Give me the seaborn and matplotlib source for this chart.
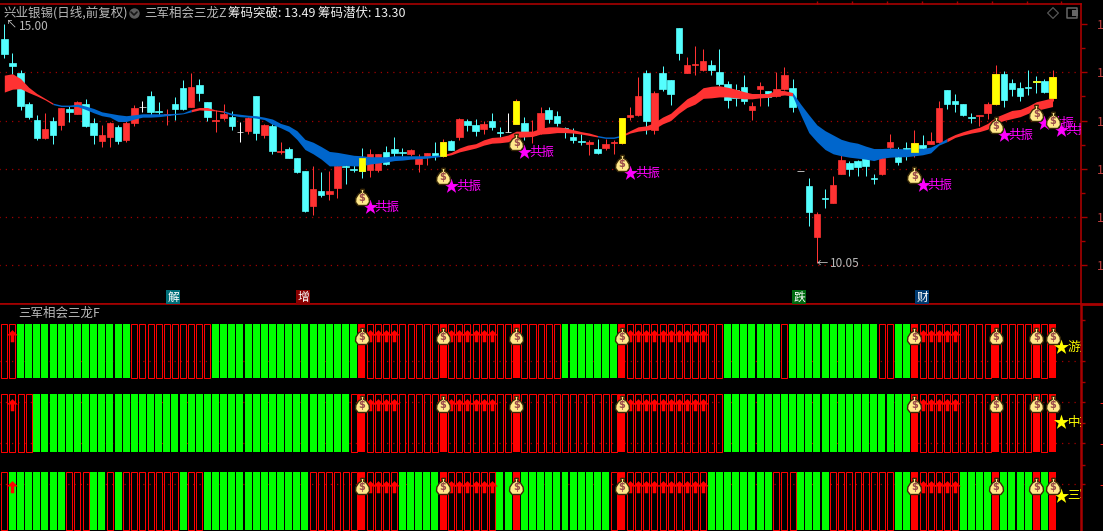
import numpy as np
import pandas as pd
import seaborn as sns
import matplotlib.pyplot as plt

# %%
opens = [14.69, 14.19, 13.99, 13.34, 13.01, 12.64, 13.00, 12.91, 13.24, 13.14,
         13.34, 12.95, 12.58, 12.66, 12.87, 12.60, 12.95, 13.28, 13.50, 13.20,
         13.12, 13.34, 13.68, 13.28, 13.74, 13.39, 13.00, 13.05, 13.07, 12.77,
         12.78, 13.51, 12.70, 12.88, 12.35, 12.41, 12.22, 11.96, 11.23, 11.54,
         11.48, 11.60, 12.06, 12.00, 12.22, 11.98, 11.98, 12.35, 12.41, 12.35,
         12.31, 12.10, 12.27, 12.33, 12.27, 12.58, 12.66, 12.99, 12.91, 12.83,
         12.99, 12.76, 12.77, 12.93, 12.95, 12.70, 12.76, 13.22, 13.10, 12.84,
         12.66, 12.58, 12.51, 12.41, 12.43, 12.53, 12.54, 13.07, 13.12, 13.99,
         12.80, 13.99, 13.84, 14.92, 13.99, 14.16, 14.05, 14.15, 14.01, 13.76,
         13.63, 13.70, 13.22, 13.65, 13.61, 13.50, 13.65, 13.68, 11.95, 11.64,
         10.59, 11.40, 11.29, 11.89, 12.12, 12.16, 12.22, 11.81, 11.89, 12.45,
         12.25, 12.43, 12.35, 12.49, 12.51, 12.55, 13.63, 13.41, 13.34, 13.07,
         13.10, 13.16, 13.34, 13.97, 13.78, 13.68, 13.70, 13.82, 13.82, 13.47]
closes = [14.37, 14.14, 13.30, 13.08, 12.64, 12.82, 12.71, 13.26, 13.18, 13.38,
          12.89, 12.70, 12.70, 12.95, 12.58, 12.95, 13.26, 13.28, 13.18, 13.18,
          13.14, 13.24, 13.24, 13.70, 13.57, 13.07, 13.02, 13.14, 12.89, 12.77,
          13.05, 12.74, 12.91, 12.37, 12.37, 12.22, 11.93, 11.13, 11.58, 11.46,
          11.54, 12.06, 12.04, 11.98, 11.96, 12.31, 12.31, 12.10, 12.33, 12.33,
          12.39, 12.22, 12.33, 12.27, 12.56, 12.39, 13.03, 12.91, 12.78, 12.93,
          12.87, 12.75, 12.77, 13.41, 12.76, 12.76, 13.16, 13.03, 12.95, 12.83,
          12.60, 12.56, 12.56, 12.33, 12.51, 12.56, 13.05, 13.12, 13.51, 12.99,
          13.57, 13.65, 13.55, 14.40, 14.15, 14.17, 14.23, 14.05, 13.76, 13.43,
          13.47, 13.41, 13.30, 13.72, 13.49, 13.65, 13.94, 13.28, 11.95, 11.10,
          11.06, 11.37, 11.66, 12.18, 12.00, 12.04, 12.06, 11.79, 12.22, 12.56,
          12.14, 12.39, 12.54, 12.43, 12.58, 13.26, 13.34, 13.34, 13.12, 13.05,
          13.12, 13.34, 13.97, 13.43, 13.65, 13.51, 13.68, 13.80, 13.59, 13.90]
highs = [15.00, 14.39, 14.05, 13.39, 13.12, 13.15, 13.07, 13.27, 13.30, 13.40,
         13.45, 13.05, 12.91, 12.98, 12.90, 12.99, 13.32, 13.41, 13.61, 13.39,
         13.24, 13.48, 13.84, 13.99, 13.86, 13.39, 13.22, 13.34, 13.19, 12.97,
         13.07, 13.51, 12.93, 12.92, 12.56, 12.45, 12.22, 11.96, 12.06, 11.93,
         11.96, 12.18, 12.20, 12.11, 12.43, 12.42, 12.31, 12.48, 12.66, 12.43,
         12.42, 12.31, 12.33, 12.55, 12.61, 12.60, 13.05, 13.03, 13.03, 12.99,
         13.16, 12.87, 13.16, 13.45, 13.07, 13.01, 13.28, 13.28, 13.20, 12.87,
         12.85, 12.72, 12.60, 12.62, 12.62, 12.60, 13.05, 13.28, 13.90, 14.05,
         13.61, 14.13, 13.84, 14.92, 14.32, 14.55, 14.48, 14.26, 14.48, 13.82,
         13.76, 13.94, 13.39, 13.80, 13.61, 14.01, 14.11, 13.86, 11.95, 11.81,
         11.10, 11.58, 11.85, 12.33, 12.16, 12.18, 12.29, 11.89, 12.42, 12.72,
         12.45, 12.56, 12.80, 12.70, 12.76, 13.40, 13.63, 13.55, 13.34, 13.16,
         13.12, 13.39, 14.15, 14.03, 13.86, 13.80, 14.05, 13.92, 13.86, 14.05]
lows = [14.30, 13.97, 13.22, 13.03, 12.60, 12.62, 12.51, 12.80, 12.96, 13.14,
        12.87, 12.51, 12.46, 12.46, 12.51, 12.56, 12.89, 13.18, 13.12, 13.12,
        12.91, 13.01, 13.22, 13.28, 13.41, 12.99, 12.76, 13.01, 12.80, 12.56,
        12.72, 12.60, 12.64, 12.31, 12.31, 12.22, 11.91, 11.10, 11.04, 11.42,
        11.35, 11.40, 11.68, 11.93, 11.81, 11.84, 11.93, 12.08, 12.18, 12.27,
        12.27, 11.93, 12.08, 12.18, 12.25, 12.39, 12.60, 12.78, 12.68, 12.72,
        12.80, 12.66, 12.76, 12.93, 12.60, 12.54, 12.73, 12.95, 12.89, 12.64,
        12.54, 12.49, 12.29, 12.31, 12.39, 12.31, 12.51, 13.01, 13.10, 12.72,
        12.72, 13.61, 13.32, 14.26, 13.99, 13.94, 14.03, 13.94, 13.72, 13.26,
        13.30, 13.34, 13.01, 13.30, 13.30, 13.48, 13.63, 13.18, 11.95, 10.81,
        10.05, 11.19, 11.29, 11.89, 11.85, 11.85, 11.85, 11.68, 11.87, 12.39,
        12.08, 12.18, 12.25, 12.33, 12.51, 12.54, 13.24, 13.18, 13.10, 12.95,
        12.89, 13.03, 13.32, 13.28, 13.51, 13.41, 13.53, 13.57, 13.57, 13.41]

band_upper = [13.94, 13.97, 13.87, 13.69, 13.56, 13.46, 13.36, 13.32, 13.32, 13.34,
              13.30, 13.25, 13.18, 13.15, 13.12, 13.10, 13.12, 13.14, 13.14, 13.14,
              13.14, 13.15, 13.16, 13.23, 13.27, 13.27, 13.22, 13.20, 13.15, 13.13,
              13.11, 13.10, 13.07, 13.03, 12.94, 12.89, 12.79, 12.61, 12.55, 12.46,
              12.36, 12.34, 12.31, 12.28, 12.27, 12.25, 12.25, 12.25, 12.27, 12.27,
              12.27, 12.27, 12.27, 12.28, 12.29, 12.34, 12.43, 12.49, 12.52, 12.60,
              12.65, 12.66, 12.70, 12.78, 12.78, 12.78, 12.84, 12.87, 12.87, 12.85,
              12.81, 12.77, 12.74, 12.69, 12.66, 12.66, 12.70, 12.79, 12.87, 12.89,
              12.96, 13.07, 13.15, 13.30, 13.45, 13.54, 13.68, 13.71, 13.72, 13.69,
              13.65, 13.60, 13.56, 13.56, 13.56, 13.63, 13.62, 13.58, 13.34, 13.12,
              12.91, 12.79, 12.70, 12.61, 12.56, 12.53, 12.47, 12.42, 12.42, 12.43,
              12.42, 12.41, 12.42, 12.42, 12.45, 12.53, 12.63, 12.71, 12.77, 12.82,
              12.86, 12.94, 13.07, 13.14, 13.21, 13.23, 13.30, 13.39, 13.43, 13.47]
band_lower = [13.59, 13.65, 13.66, 13.58, 13.51, 13.43, 13.33, 13.29, 13.29, 13.29,
              13.23, 13.16, 13.10, 13.07, 12.98, 12.98, 13.03, 13.07, 13.07, 13.08,
              13.10, 13.12, 13.14, 13.18, 13.22, 13.21, 13.20, 13.17, 13.11, 13.08,
              13.07, 13.05, 13.02, 12.92, 12.85, 12.77, 12.61, 12.40, 12.31, 12.20,
              12.06, 12.06, 12.07, 12.06, 12.06, 12.10, 12.12, 12.14, 12.17, 12.18,
              12.20, 12.21, 12.22, 12.24, 12.26, 12.29, 12.35, 12.39, 12.43, 12.49,
              12.53, 12.54, 12.56, 12.65, 12.66, 12.67, 12.72, 12.73, 12.75, 12.75,
              12.74, 12.72, 12.69, 12.66, 12.63, 12.63, 12.67, 12.74, 12.78, 12.80,
              12.83, 12.93, 13.00, 13.15, 13.27, 13.34, 13.46, 13.47, 13.49, 13.49,
              13.47, 13.45, 13.45, 13.47, 13.48, 13.51, 13.53, 13.51, 13.12, 12.75,
              12.56, 12.40, 12.31, 12.27, 12.24, 12.22, 12.20, 12.17, 12.22, 12.24,
              12.25, 12.25, 12.27, 12.29, 12.33, 12.49, 12.56, 12.65, 12.70, 12.74,
              12.77, 12.82, 12.94, 13.00, 13.04, 13.08, 13.15, 13.21, 13.25, 13.29]

# first bar of each colour run of the band
band_starts = [0, 6, 23, 27, 54, 73, 76, 97, 116]
band_kinds = ['up', 'down', 'up', 'down', 'up', 'down', 'up', 'down', 'up']

signal_bars = [44, 54, 63, 76, 112, 122, 127, 129]
bag_prices = [11.39, 11.83, 12.53, 12.10, 11.85, 12.89, 13.14, 12.99]
arrow_bars = [1, 45, 46, 47, 48, 55, 56, 57, 58, 59, 60, 77, 78, 79, 80, 81, 82,
              83, 84, 85, 86, 113, 114, 115, 116, 117]

green_fast = [(2, 15), (26, 43), (69, 75), (89, 95), (97, 107), (110, 111)]
green_mid = [(4, 42), (89, 111)]
green_three = [(1, 7), (11, 12), (14, 14), (22, 22), (25, 37), (49, 53), (61, 62),
               (64, 74), (87, 94), (98, 101), (110, 111), (118, 121), (123, 126),
               (128, 128)]
row_labels = ['游资', '中期', '三军']

price_ticks = [10, 11, 12, 13, 14, 15]
lamps = [('解', 173, '#00707a'), ('增', 303, '#8a0000'), ('跌', 799, '#006a10'), ('财', 922, '#003a70')]

# %%
RED = '#ff3232'
CYAN = '#54ffff'
DARK_RED = '#a80000'
W, H = 1103, 531

sns.set_theme(style='dark', rc={'figure.facecolor': 'black', 'axes.facecolor': 'black',
                                'axes.edgecolor': DARK_RED, 'axes.grid': False})
plt.rcParams['font.family'] = ['Noto Sans CJK SC', 'DejaVu Sans']

fig = plt.figure(figsize=(W / 100, H / 100), dpi=100)
ax = fig.add_axes([0, 227 / H, 1081 / W, 300 / H])
ax2 = fig.add_axes([0, 0, 1081 / W, 227 / H])

BAG = [(-0.25, 1.25), (0.25, 1.25), (0.15, 0.85), (0.55, 0.6), (0.9, 0.05), (0.95, -0.5), (0.6, -0.95),
       (-0.6, -0.95), (-0.95, -0.5), (-0.9, 0.05), (-0.55, 0.6), (-0.15, 0.85), (-0.25, 1.25)]
ARROW = [(0, 1), (1, 0), (0.33, 0), (0.33, -1.25), (-0.33, -1.25), (-0.33, 0), (-1, 0), (0, 1)]


def draw_bag(axis, x, y):
    axis.scatter([x], [y], s=175, marker=BAG, c='#ffe98a', edgecolors='#3a2a08', linewidths=1, zorder=7)
    axis.text(x, y, '$', color='#9a4a4a', fontsize=7, fontweight='bold', ha='center', va='center',
              family='DejaVu Sans', zorder=8)


def px(x, y):
    return x / W, 1 - y / H


def fig_text(x, y, s, color='#b8b8b8', size=9):
    fig.text(*px(x, y), s, color=color, fontsize=size, ha='left', va='center')


def button(x, y):
    ax.scatter(*px(x, y), s=42, c='#5c5c5c', transform=fig.transFigure, clip_on=False, zorder=9)
    xs, ys = zip(px(x - 3, y - 1), px(x, y + 2), px(x + 3, y - 1))
    ax.plot(xs, ys, color='#141414', lw=1.2, transform=fig.transFigure, clip_on=False, zorder=10)


# %%
df = pd.DataFrame({'open': opens, 'close': closes, 'high': highs, 'low': lows})
df['top'] = df[['open', 'close']].max(axis=1)
df['bottom'] = df[['open', 'close']].min(axis=1)
df['color'] = np.where(df.close > df.open, RED, np.where(df.close < df.open, CYAN, '#ffffff'))
idx = df.index.values
upper = np.array(band_upper)
lower = np.array(band_lower)

ax.hlines(price_ticks[:-1], -1, 133, color='#a00000', lw=0.9, ls=(0, (1, 4)), zorder=1)
ax.vlines(idx, df.low, df.high, colors=df.color, lw=0.72, zorder=2)
ax.bar(idx, df.top - df.bottom, bottom=df.bottom, width=0.8, color=df.color, edgecolor=df.color,
       linewidth=0.5, zorder=2)

ends = band_starts[1:] + [len(idx) - 1]
for start, end, kind in zip(band_starts, ends, band_kinds):
    ax.fill_between(idx[start:end + 1], upper[start:end + 1], lower[start:end + 1], lw=0, antialiased=False,
                    color=RED if kind == 'up' else '#0066cc', zorder=3)

sig = df.loc[signal_bars]
ax.bar(sig.index, sig.top - sig.bottom, bottom=sig.bottom, width=0.8, color='#ffff00', edgecolor='#ffff00',
       linewidth=0.5, zorder=4)

for bar, price in zip(signal_bars, bag_prices):
    draw_bag(ax, bar, price)
    ax.scatter([bar + 1], [price - 0.19], s=130, marker='*', c='#ff00ff', lw=0, zorder=6)
    ax.text(bar + 1.6, price - 0.19, '共振', color='#ff00ff', fontsize=9, va='center', zorder=6, clip_on=True)

ax.text(0.15, 14.98, '↖', color='#c8c8c8', fontsize=8, va='center', ha='left')
ax.text(1.8, 14.94, '15.00', color='#b8b8b8', fontsize=8.5, va='center', ha='left')
ax.text(100, 10.03, '←', color='#c8c8c8', fontsize=8, va='center', ha='left')
ax.text(101.6, 10.03, '10.05', color='#b8b8b8', fontsize=8.5, va='center', ha='left')

ax.set_xlim(-0.53, 132.5)
ax.set_ylim(9.198, 15.415)
ax.yaxis.tick_right()
ax.set_yticks(price_ticks, ['1'] * len(price_ticks))
ax.set_yticks(np.array(price_ticks[:-1]) + 0.5, minor=True)
ax.tick_params(axis='y', which='major', right=True, length=4.5, width=1, color=DARK_RED, labelcolor='#c04040',
               labelsize=9, pad=7)
ax.tick_params(axis='y', which='minor', right=True, length=3, width=1, color=DARK_RED)
ax.xaxis.tick_top()
ax.set_xticks([100, 104.3, 108.6, 112.9, 117.2, 121.5, 125.8, 130.1], [])
ax.tick_params(axis='x', top=True, length=2.5, width=1, color=DARK_RED)
ax.spines['left'].set_visible(False)
for side in ['top', 'right', 'bottom']:
    ax.spines[side].set_linewidth(1.2)

# %%
ax2.hlines([170, 129, 88, 47], -1, 133, color='#a00000', lw=0.9, ls=(0, (1, 4)), zorder=0)
all_bars = list(range(len(idx)))
rows = [(153, 54, green_fast), (79, 58, green_mid), (1, 58, green_three)]
bag_y = [194, 126, 44]
arrow_y = [196, 127, 45]
star_y = [184, 109, 35]
for (base, height, spans), by, ay, sy, label in zip(rows, bag_y, arrow_y, star_y, row_labels):
    green = [b for s, e in spans for b in range(s, e + 1)]
    hollow = [b for b in all_bars if b not in green and b not in signal_bars]
    sns.barplot(x=green, y=[height] * len(green), order=all_bars, bottom=base, color='#00ff00', saturation=1,
                width=0.86, linewidth=0, ax=ax2, zorder=2)
    sns.barplot(x=signal_bars, y=[height] * len(signal_bars), order=all_bars, bottom=base, color='#ff0000',
                saturation=1, width=0.86, linewidth=0, ax=ax2, zorder=2)
    sns.barplot(x=hollow, y=[height] * len(hollow), order=all_bars, bottom=base, color='#ff0000', fill=False,
                width=0.74, linewidth=0.72, ax=ax2, zorder=2)
    ax2.scatter(arrow_bars, [ay] * len(arrow_bars), s=95, marker=ARROW, c='#ff0000', lw=0, zorder=5)
    for bar in signal_bars:
        draw_bag(ax2, bar, by)
    ax2.scatter([130], [sy], s=130, marker='*', c='#ffff00', lw=0, zorder=6)
    ax2.text(130.85, sy, label, color='#ffff00', fontsize=9, va='center', zorder=6, clip_on=True)

ax2.set_xlim(-0.53, 132.5)
ax2.set_ylim(0, 227)
ax2.set_xlabel('')
ax2.set_ylabel('')
ax2.set_xticks([])
ax2.yaxis.tick_right()
ax2.set_yticks([47, 88, 129], ['-', '-', '-'])
ax2.set_yticks([66, 108, 149, 170, 211], minor=True)
ax2.tick_params(axis='y', which='major', right=True, length=3, width=1, color=DARK_RED, labelcolor='#ff2020',
                labelsize=9, pad=10)
ax2.tick_params(axis='y', which='minor', right=True, length=3, width=1, color=DARK_RED)
ax2.spines['left'].set_visible(False)
ax2.spines['bottom'].set_visible(False)
ax2.spines['right'].set_linewidth(1.8)
ax2.spines['top'].set_linewidth(1.2)
ax2.plot([1, 1.02], [1, 1], color=DARK_RED, lw=2, transform=ax2.transAxes, clip_on=False)

# %%
fig_text(3, 13, '兴业银锡(日线,前复权)')
button(134, 13)
fig_text(144, 13, '三军相会三龙Z')
fig_text(228, 13, '筹码突破: 13.49', color='#f0f0f0')
fig_text(318, 13, '筹码潜伏: 13.30', color='#f0f0f0')
button(8, 313)
fig_text(18, 313, '三军相会三龙F')

for ch, x, bg in lamps:
    fig.text(*px(x, 297), ch, color='white', fontsize=8.5, ha='center', va='center',
             bbox=dict(boxstyle='square,pad=0.08', fc=bg, ec='none'))

ax.scatter(*px(1053, 13), s=30, marker='D', facecolors='none', edgecolors='#555555', lw=0.9,
           transform=fig.transFigure, clip_on=False)
ax.scatter(*px(1072, 13), s=62, marker='s', facecolors='none', edgecolors='#666666', lw=1.1,
           transform=fig.transFigure, clip_on=False)
ax.scatter(*px(1075, 13), s=16, marker='s', c='#666666', lw=0, transform=fig.transFigure, clip_on=False)

fig.savefig('out.png', dpi=100, facecolor='black')
